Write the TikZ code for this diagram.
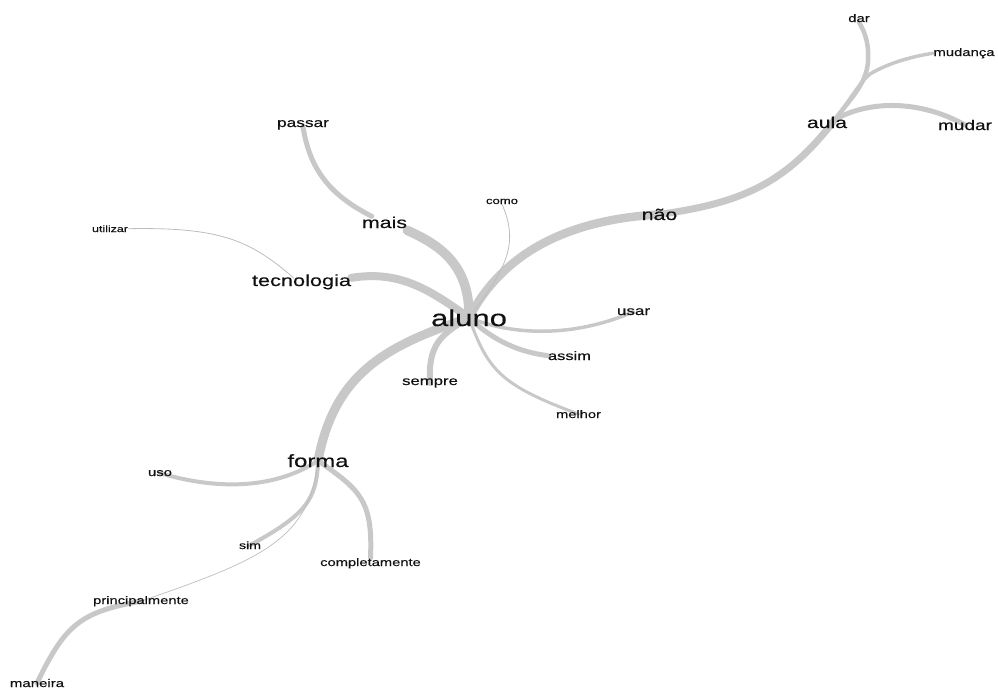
\documentclass[tikz,border=0pt]{standalone}
\usepackage{fontspec}
% wide sans face used for every word of the tree
\newfontfamily\wordfont[FakeStretch=1.35,FakeBold=0.35]{Liberation Sans}
\usetikzlibrary{calc}
\pgfdeclarelayer{edges}
\pgfsetlayers{edges,main}
\definecolor{edgegray}{HTML}{C8C8C8}
\definecolor{thingray}{HTML}{BDBDBD}
\definecolor{wordink}{HTML}{111111}
\tikzset{
  word/.style={inner sep=0pt, anchor=base, text=wordink,
    font=\wordfont\fontsize{#1}{#1}\selectfont},
  link/.style={draw=edgegray, line width=#1, line cap=round},
  thinlink/.style={draw=thingray, line width=0.8pt, line cap=round},
}
\begin{document}
\begin{tikzpicture}[x=1pt,y=-1pt]
\useasboundingbox (0,0) rectangle (998,689);

% words (placed on their baselines)
\node[word=23]   (aluno)          at (469,326)   {aluno};
\node[word=15.8] (nao)            at (659.5,220) {não};
\node[word=15.7] (aula)           at (827,128)   {aula};
\node[word=14.1] (mudar)          at (965,130)   {mudar};
\node[word=11]   (dar)            at (859,22)    {dar};
\node[word=11]   (mudanca)        at (964,56)    {mudança};
\node[word=15.8] (mais)           at (384.5,228) {mais};
\node[word=12.8] (passar)         at (303,127)   {passar};
\node[word=16.1] (tecnologia)     at (301.5,286) {tecnologia};
\node[word=9.2]  (utilizar)       at (110,232)   {utilizar};
\node[word=9.7]  (como)           at (502,204)   {como};
\node[word=12.6] (usar)           at (633.5,315) {usar};
\node[word=12.2] (assim)          at (569.5,360) {assim};
\node[word=12.4] (sempre)         at (430,385)   {sempre};
\node[word=10.9] (melhor)         at (578.5,418) {melhor};
\node[word=17.7] (forma)          at (318,467)   {forma};
\node[word=11]   (uso)            at (160,476)   {uso};
\node[word=10.5] (sim)            at (250,549)   {sim};
\node[word=10.9] (completamente)  at (370.5,566) {completamente};
\node[word=10.9] (principalmente) at (141,604)   {principalmente};
\node[word=11.1] (maneira)        at (37,687)    {maneira};

\begin{pgfonlayer}{edges}
  % branch towards "não" and "aula"
  \draw[link=8.5] (aluno.center) .. controls (500,258) and (560,220) .. (nao.center);
  \draw[link=7] (nao.center) .. controls (740,203) and (785,185) .. ($(aula.center)+(8,-3)$);
  \draw[link=4.5] ($(aula.center)+(8,-3)$) .. controls (852,97) and (866,84) .. (868,62)
                  .. controls (869,45) and (866,34) .. (dar.south);
  \draw[link=3.5] ($(aula.center)+(8,-3)$) .. controls (852,97) and (860,82) .. (870,74)
                  .. controls (890,62) and (915,56) .. (mudanca.west);
  \draw[link=5] ($(aula.center)+(8,-3)$) .. controls (870,100) and (920,100) .. (mudar.center);
  \draw[thinlink] (aluno.center) .. controls (505,270) and (520,245) .. (como.south);

  % branch towards "mais" and "tecnologia"
  \draw[link=9.5] (aluno.center) .. controls (470,265) and (440,245) .. ($(mais.south east)+(0,2)$);
  \draw[link=5] ($(mais.north west)+(10,0)$) .. controls (330,195) and (310,170) .. (passar.base);
  \draw[link=8] (aluno.center) .. controls (430,290) and (400,270) .. ($(tecnologia.east)+(0,-4)$);
  \draw[thinlink] ($(tecnologia.center)+(-8,-4)$) .. controls (250,240) and (220,227) .. (utilizar.east);

  % short branches to the right and below
  \draw[link=3.5] (aluno.center) .. controls (520,338) and (580,335) .. (usar.center);
  \draw[link=5] (aluno.center) .. controls (495,342) and (520,352) .. (assim.west);
  \draw[link=3] (aluno.center) .. controls (488,370) and (500,385) .. (melhor.center);
  \draw[link=6] (aluno.center) .. controls (440,335) and (428,345) .. (sempre.center);

  % branch towards "forma"
  \draw[link=9] (aluno.center) .. controls (390,345) and (335,370) .. (forma.center);
  \draw[link=4] (forma.center) .. controls (270,492) and (210,488) .. (uso.center);
  \draw[link=4] (forma.center) .. controls (317,500) and (305,515) .. (sim.center);
  \draw[link=5] (forma.center) .. controls (360,490) and (373,500) .. (completamente.north);
  \draw[thinlink, line width=0.7pt] (forma.center) .. controls (310,540) and (260,560) .. (principalmente.center);
  \draw[link=5] (principalmente.center) .. controls (80,612) and (65,625) .. (maneira.center);
\end{pgfonlayer}
\end{tikzpicture}
\end{document}
